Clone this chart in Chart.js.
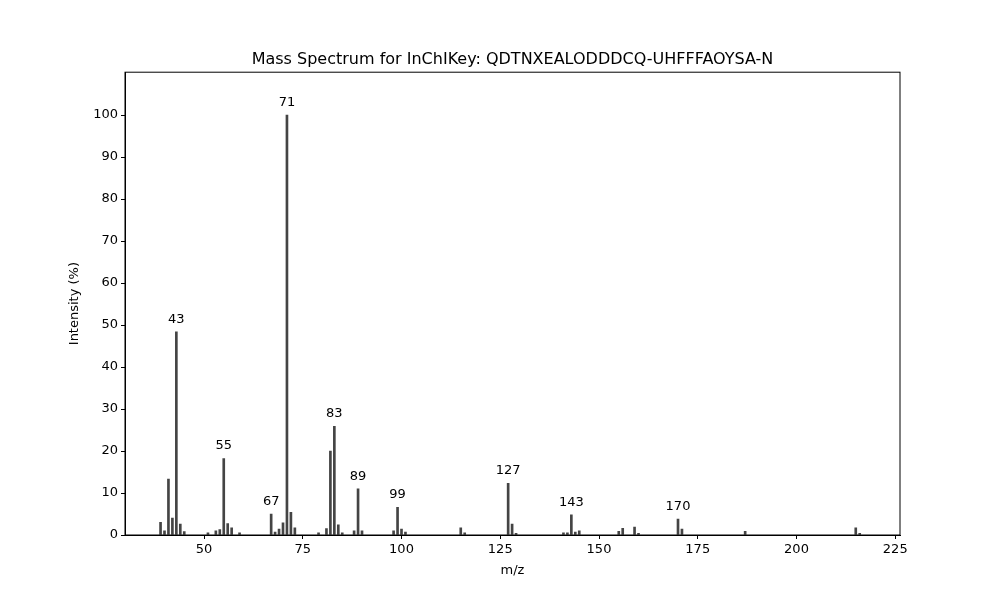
<!DOCTYPE html>
<html>
<head>
<meta charset="utf-8">
<script src="https://cdn.jsdelivr.net/npm/chart.js@4/dist/chart.umd.min.js"></script>
<style>
  html, body { margin: 0; padding: 0; background: #fff; }
  #wrap { width: 1000px; height: 600px; }
</style>
</head>
<body>
<div id="wrap"><canvas id="spec" width="1000" height="600"></canvas></div>
<script>
// --- data ---
const mzValues = [39, 40, 41, 42, 43, 44, 45, 51, 53, 54, 55, 56, 57, 59,
  67, 68, 69, 70, 71, 72, 73, 79, 81, 82, 83, 84, 85, 88, 89, 90,
  98, 99, 100, 101, 115, 116, 127, 128, 129, 141, 142, 143, 144, 145,
  155, 156, 159, 160, 170, 171, 187, 215, 216];
const intensities = [3.0, 1.0, 13.3, 4.0, 48.4, 2.6, 0.8, 0.5, 1.0, 1.3, 18.2, 2.7, 1.7, 0.5,
  5.0, 0.7, 1.4, 2.9, 100, 5.4, 1.7, 0.5, 1.5, 20.0, 25.9, 2.4, 0.5, 1.0, 11.0, 1.0,
  1.0, 6.6, 1.4, 0.7, 1.7, 0.5, 12.3, 2.6, 0.4, 0.5, 0.5, 4.8, 0.7, 1.0,
  0.9, 1.6, 1.9, 0.4, 3.8, 1.4, 0.9, 1.7, 0.4];
const labelledPeaks = [43, 55, 67, 71, 83, 89, 99, 127, 143, 170];
const xTicks = [50, 75, 100, 125, 150, 175, 200, 225];
const yTicks = [0, 10, 20, 30, 40, 50, 60, 70, 80, 90, 100];

const FONT = "'DejaVu Sans', sans-serif";

// box round the plot area
const frame = {
  id: 'frame',
  afterDraw(chart) {
    const a = chart.chartArea, ctx = chart.ctx;
    ctx.save();
    ctx.strokeStyle = '#000';
    ctx.lineWidth = 1;
    ctx.strokeRect(a.left, a.top, a.right - a.left, a.bottom - a.top);
    ctx.restore();
  }
};

// m/z labels above the main peaks
const peakLabels = {
  id: 'peakLabels',
  afterDatasetsDraw(chart) {
    const ctx = chart.ctx, x = chart.scales.x, y = chart.scales.y;
    ctx.save();
    ctx.font = '13px ' + FONT;
    ctx.fillStyle = '#000';
    ctx.textAlign = 'center';
    ctx.textBaseline = 'bottom';
    labelledPeaks.forEach(mz => {
      const i = mzValues.indexOf(mz);
      if (i < 0) return;
      ctx.fillText(String(mz), x.getPixelForValue(mz), y.getPixelForValue(intensities[i]) - 6);
    });
    ctx.restore();
  }
};

new Chart(document.getElementById('spec').getContext('2d'), {
  type: 'bar',
  data: {
    datasets: [{
      data: mzValues.map((m, i) => ({ x: m, y: intensities[i] })),
      backgroundColor: '#444',
      borderWidth: 0,
      barThickness: 2
    }]
  },
  options: {
    responsive: false,
    animation: false,
    layout: { padding: { left: 60, right: 100, top: 0, bottom: 0 } },
    plugins: {
      legend: { display: false },
      tooltip: { enabled: false },
      title: {
        display: true,
        fullSize: false,
        text: 'Mass Spectrum for InChIKey: QDTNXEALODDDCQ-UHFFFAOYSA-N',
        color: '#000',
        font: { family: FONT, size: 16, weight: 'normal' },
        padding: { top: 50, bottom: 3 }
      }
    },
    scales: {
      x: {
        type: 'linear',
        offset: false,
        min: 30,
        max: 226.2,
        afterBuildTicks: s => { s.ticks = xTicks.map(v => ({ value: v })); },
        afterFit: s => { s.height = 65; },
        ticks: { color: '#000', font: { family: FONT, size: 13 }, padding: 3, maxRotation: 0 },
        grid: { offset: false, drawOnChartArea: false, drawTicks: true, tickLength: 4, color: '#000' },
        border: { display: true, color: '#000' },
        title: { display: true, text: 'm/z', color: '#000', font: { family: FONT, size: 13 }, padding: { top: 4, bottom: 22 } }
      },
      y: {
        min: 0,
        max: 110.2,
        afterBuildTicks: s => { s.ticks = yTicks.map(v => ({ value: v })); },
        afterFit: s => { s.width = 65; },
        ticks: { color: '#000', font: { family: FONT, size: 13 }, padding: 3 },
        grid: { drawOnChartArea: false, drawTicks: true, tickLength: 4, color: '#000' },
        border: { display: true, color: '#000' },
        title: { display: true, text: 'Intensity (%)', color: '#000', font: { family: FONT, size: 13 }, padding: { top: 7, bottom: 0 } }
      }
    }
  },
  plugins: [frame, peakLabels]
});
</script>
</body>
</html>
